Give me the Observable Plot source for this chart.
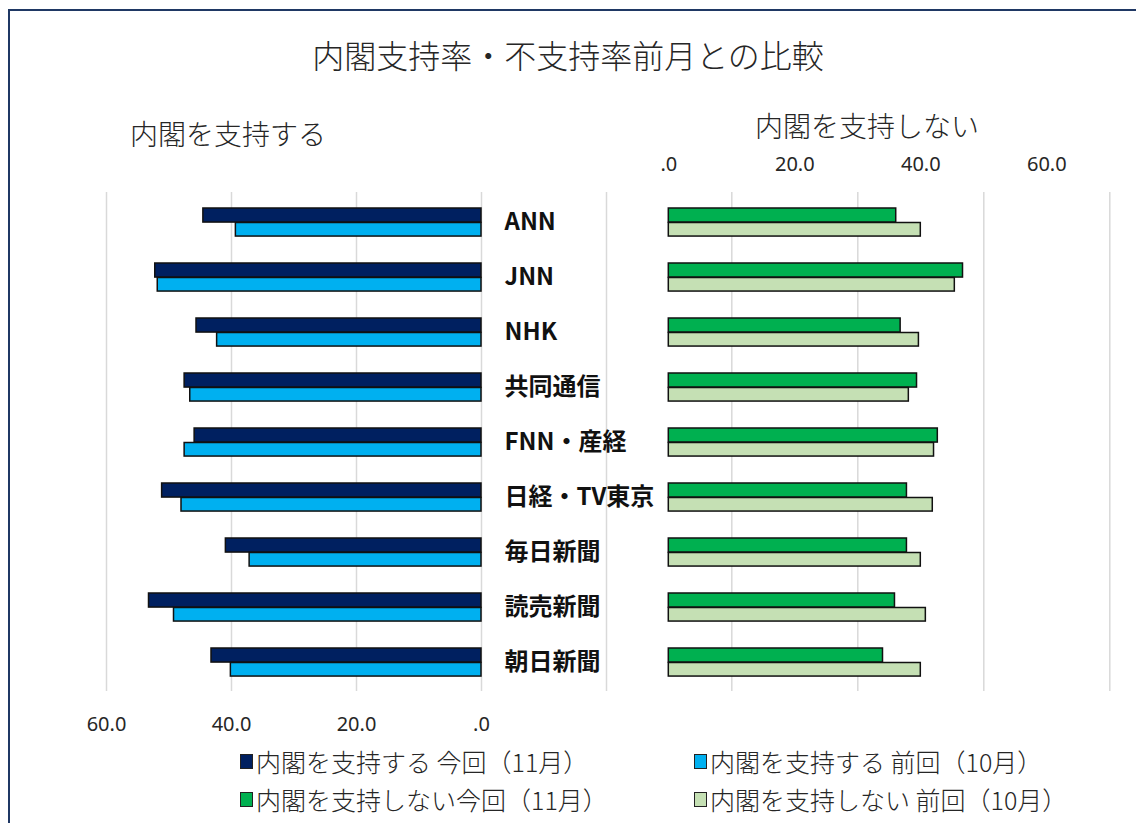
<!DOCTYPE html>
<html>
<head>
<meta charset="utf-8">
<script src="https://cdn.jsdelivr.net/npm/d3@7"></script>
<script src="https://cdn.jsdelivr.net/npm/@observablehq/plot@0.6"></script>
<style>
  html, body { margin: 0; padding: 0; background: #fff; }
  #wrap { position: relative; width: 1136px; height: 823px; overflow: hidden; background: #fff;
          font-family: "Noto Sans CJK JP", "Noto Sans", sans-serif; color: #262626; }
  #frame { position: absolute; left: 8px; top: 9px; width: 1140px; height: 840px;
           border: 2px solid #1F3864; box-sizing: border-box; }
  .abs { position: absolute; }
  .abs svg, #wrap > svg { position: absolute; left: 0; top: 0; }
  #title { position: absolute; left: 0; width: 1136px; top: 32px; text-align: center;
           font-size: 32px; font-weight: 300; line-height: 44px; }
  .sub { position: absolute; font-size: 28px; font-weight: 300; line-height: 36px; white-space: nowrap; }
  .leg { position: absolute; font-size: 25px; font-weight: 300; line-height: 32px; white-space: nowrap;
         display: flex; align-items: center; }
  .sw { display: inline-block; width: 11px; height: 13px; border: 1.5px solid #222; margin-right: 3px; }
</style>
</head>
<body>
<div id="wrap">
  <div id="frame"></div>
  <div id="title"></div>
  <div id="plots"></div>
</div>
<script>
const title = "内閣支持率・不支持率前月との比較";
const subLeft = "内閣を支持する";
const subRight = "内閣を支持しない";
const categories = ["ANN", "JNN", "NHK", "共同通信", "FNN・産経", "日経・TV東京", "毎日新聞", "読売新聞", "朝日新聞"];
const supportNov = [44.5, 52.2, 45.6, 47.5, 45.9, 51.1, 40.9, 53.2, 43.2];
const supportOct = [39.3, 51.8, 42.3, 46.6, 47.5, 48.0, 37.1, 49.2, 40.1];
const nonSupportNov = [36.1, 46.7, 36.8, 39.4, 42.7, 37.8, 37.8, 35.9, 34.0];
const nonSupportOct = [40.0, 45.4, 39.7, 38.1, 42.1, 41.9, 40.0, 40.8, 40.0];
const leftTicks = [60, 40, 20, 0];
const leftGrid = [60, 40, 20, 0, -20];
const rightTicks = [0, 20, 40, 60];
const rightGrid = [10, 30, 50, 70];
const legendLabels = ["内閣を支持する 今回（11月）", "内閣を支持する 前回（10月）", "内閣を支持しない今回（11月）", "内閣を支持しない 前回（10月）"];
const colors = ["#002060", "#00B0F0", "#00B050", "#C5E0B4"];

const fmt = d => d === 0 ? ".0" : d.toFixed(1);
const rows = vals => categories.map((c, i) => ({cat: c, v: vals[i]}));

const W = 1136, H = 823;
const mTop = 192, mBottom = 132;
const step = (H - mTop - mBottom) / categories.length;
// bar placement within each band (styles)
const topBar = {insetTop: 14, insetBottom: step - 28.5};
const botBar = {insetTop: 28.5, insetBottom: step - 42.5};
const barStyle = {stroke: "#111", strokeWidth: 1.5};
const gridStyle = {stroke: "#d9d9d9", strokeWidth: 1.5};
const baseStyle = {background: "transparent", fontFamily: "'Noto Sans', sans-serif", fontSize: "20px", color: "#262626"};

document.getElementById("title").textContent = title;

const left = Plot.plot({
  width: W, height: H,
  marginLeft: 106, marginRight: W - 606, marginTop: mTop, marginBottom: mBottom,
  style: baseStyle,
  x: {domain: [60, -20], ticks: leftTicks, tickFormat: fmt, tickSize: 0, tickPadding: 25, label: null, axis: "bottom"},
  y: {domain: categories, padding: 0, axis: null},
  marks: [
    Plot.ruleX(leftGrid, gridStyle),
    Plot.barX(rows(supportNov), {y: "cat", x: "v", fill: colors[0], ...barStyle, ...topBar}),
    Plot.barX(rows(supportOct), {y: "cat", x: "v", fill: colors[1], ...barStyle, ...botBar}),
    Plot.text(categories, {y: d => d, frameAnchor: "right", textAnchor: "start", dx: -102,
      fontWeight: "bold", fontSize: 24, fill: "#111", fontFamily: "'Noto Sans CJK JP', sans-serif"})
  ]
});

const right = Plot.plot({
  width: W, height: H,
  marginLeft: 668.3, marginRight: W - 1109.3, marginTop: mTop, marginBottom: mBottom,
  style: baseStyle,
  x: {domain: [0, 70], ticks: rightTicks, tickFormat: fmt, tickSize: 0, tickPadding: 22, label: null, axis: "top"},
  y: {domain: categories, padding: 0, axis: null},
  marks: [
    Plot.ruleX(rightGrid, gridStyle),
    Plot.barX(rows(nonSupportNov), {y: "cat", x: "v", fill: colors[2], ...barStyle, ...topBar}),
    Plot.barX(rows(nonSupportOct), {y: "cat", x: "v", fill: colors[3], ...barStyle, ...botBar})
  ]
});

const plots = document.getElementById("plots");
plots.className = "abs";
plots.style.left = "0px"; plots.style.top = "0px"; plots.style.width = W + "px"; plots.style.height = H + "px";
plots.appendChild(left);
plots.appendChild(right);

const wrap = document.getElementById("wrap");
function addDiv(cls, text, x, y) {
  const d = document.createElement("div");
  d.className = cls; d.textContent = text;
  d.style.left = x + "px"; d.style.top = y + "px";
  wrap.appendChild(d);
  return d;
}
addDiv("sub", subLeft, 130, 115);
addDiv("sub", subRight, 755, 107);

const legPos = [[240, 745], [694, 745], [240, 783], [694, 783]];
legendLabels.forEach((lab, i) => {
  const d = document.createElement("div");
  d.className = "leg";
  d.style.left = legPos[i][0] + "px"; d.style.top = legPos[i][1] + "px";
  const sw = document.createElement("span");
  sw.className = "sw"; sw.style.background = colors[i];
  d.appendChild(sw);
  d.appendChild(document.createTextNode(lab));
  wrap.appendChild(d);
});
</script>
</body>
</html>
